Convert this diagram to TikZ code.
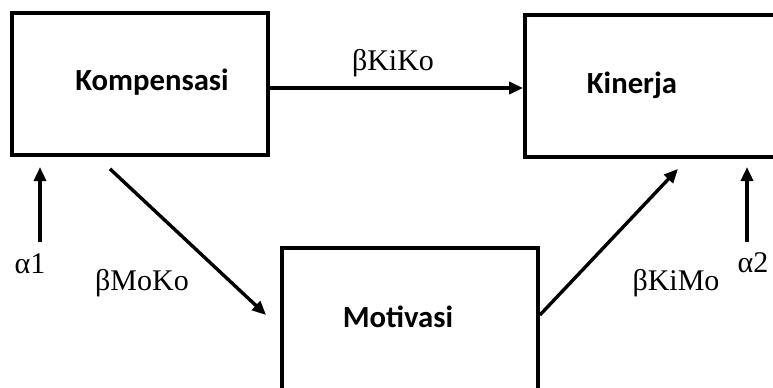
\documentclass[tikz,border=0pt]{standalone}
\usepackage{fontspec}
\setmainfont{Liberation Serif}
\newfontfamily\boxfont{Carlito}
\usetikzlibrary{arrows.meta,calc}
\tikzset{
	box/.style={draw, line width=3.8bp, minimum width=256bp, minimum height=142bp, inner sep=0pt},
	boxtext/.style={anchor=base, font=\boxfont\bfseries\fontsize{30.7bp}{36bp}\selectfont},
	coef/.style={anchor=base, font=\fontsize{30bp}{36bp}\selectfont},
	arr/.style={line width=3.4bp, -{Triangle[length=14bp,width=12bp]}}
}

\begin{document}
\begin{tikzpicture}[x=1bp, y=-1bp]
        \clip (0,0) rectangle (773,387);
        \fill[white] (0,0) rectangle (773,387);
        % boxes
        \node[box] (komp) at (140,84) {};
        \node[box] (kin) at (653,86) {};
        \node[box] (moti) at (410,319) {};
        \node[boxtext] (kompText) at (152,90) {Kompensasi};
        \node[boxtext] (kinText) at (632,93) {Kinerja};
        \node[boxtext] (motiText) at (398,327) {Motivasi};
        % paths
        \draw[arr] ([yshift=-4bp]komp.east) -- ([yshift=-4bp]komp.east -| kin.west);
        \draw[arr] ([shift={(-30,12)}]komp.south) -- ([shift={(-14,-4)}]moti.west);
        \draw[arr] ([shift={(0,-4)}]moti.east) -- ([shift={(25,10)}]kin.south);
        % error terms
        \coordinate (a1low) at (40,242);
        \coordinate (a1top) at (40,167);
        \coordinate (a2low) at (747,242);
        \coordinate (a2top) at (747,167);
        \draw[arr] (a1low) -- (a1top);
        \draw[arr] (a2low) -- (a2top);
        % coefficients
        \node[coef] (bKiKo) at (393,70) {βKiKo};
        \node[coef] (bMoKo) at (142,290) {βMoKo};
        \node[coef] (bKiMo) at (676,290) {βKiMo};
        \node[coef] (alpha1) at (30,273) {α1};
        \node[coef] (alpha2) at (753,272) {α2};
    \end{tikzpicture}
\end{document}
